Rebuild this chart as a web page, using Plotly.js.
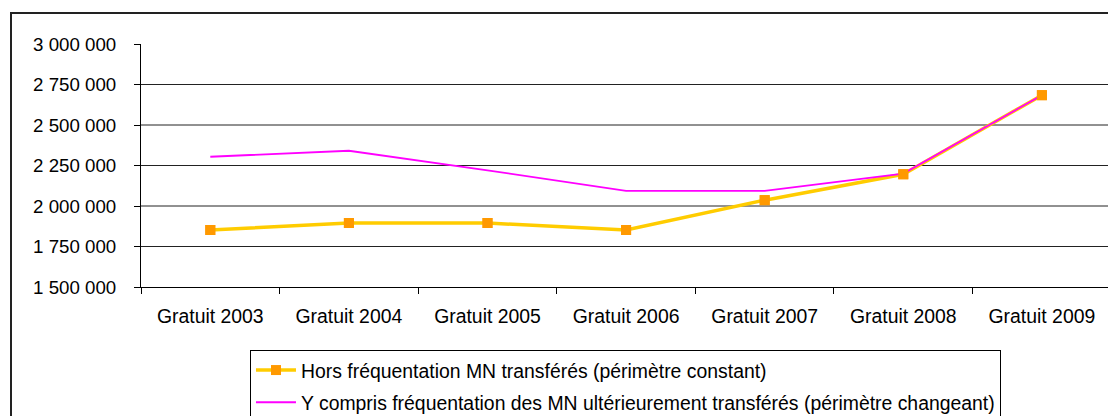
<!DOCTYPE html>
<html>
<head>
<meta charset="utf-8">
<script src="https://cdn.plot.ly/plotly-3.0.1.min.js"></script>
<style>
html,body{margin:0;padding:0;overflow:hidden;background:#fff;width:1108px;height:416px;}
#frame{position:absolute;left:10px;top:12px;width:1200px;height:600px;border-left:2px solid #222;border-top:2px solid #222;}
#chart{position:absolute;left:0;top:0;}
</style>
</head>
<body>
<div id="frame"></div>
<div id="chart"></div>
<script>
const categories = ["Gratuit 2003","Gratuit 2004","Gratuit 2005","Gratuit 2006","Gratuit 2007","Gratuit 2008","Gratuit 2009"];
const horsTransferes = [1852000, 1895000, 1895000, 1852000, 2036000, 2196000, 2684000];
const yComprisTransferes = [2304000, 2341000, 2220000, 2093000, 2093000, 2200000, 2684000];
const seriesNames = [
  "Hors fréquentation MN transférés (périmètre constant)",
  "Y compris fréquentation des MN ultérieurement transférés (périmètre changeant)"
];
const yTickVals = [1500000, 1750000, 2000000, 2250000, 2500000, 2750000, 3000000];
const yTickText = ["1 500 000","1 750 000","2 000 000","2 250 000","2 500 000","2 750 000","3 000 000"];
const gridVals = [1750000, 2000000, 2250000, 2500000, 2750000];

const FONT = "Liberation Sans, Arial, sans-serif";

const traces = [
  {x: categories, y: horsTransferes, name: seriesNames[0], type: "scatter", mode: "lines+markers",
   line: {color: "#FFCC00", width: 3.5}, marker: {symbol: "square", size: 10, color: "#FF9900"},
   legendgroup: "a"},
  {x: categories, y: yComprisTransferes, name: seriesNames[1], type: "scatter", mode: "lines",
   line: {color: "#FF00FF", width: 1.8}, legendgroup: "b"},
  {x: categories, y: horsTransferes, type: "scatter", mode: "markers", showlegend: false,
   marker: {symbol: "square", size: 10, color: "#FF9900"}, hoverinfo: "skip"}
];

const shapes = gridVals.map(v => ({type: "line", xref: "paper", yref: "y", x0: 0, x1: 1, y0: v, y1: v,
  line: {color: "#222", width: 1}, layer: "below"}));

const layout = {
  width: 1108, height: 440,
  margin: {l: 141, r: 0, t: 44, b: 153, pad: 0},
  paper_bgcolor: "rgba(0,0,0,0)", plot_bgcolor: "rgba(0,0,0,0)",
  font: {family: FONT, size: 19.4, color: "#000"},
  showlegend: true,
  xaxis: {type: "category", range: [-0.5, 6.477], showgrid: false, showline: true, linecolor: "#000", linewidth: 1,
    ticks: "outside", ticklen: 6, tickcolor: "#000", tickson: "boundaries", zeroline: false,
    ticklabelstandoff: 12,
    tickfont: {family: FONT, size: 19.4, color: "#000"}, fixedrange: true},
  yaxis: {range: [1500000, 3000000], tickvals: yTickVals, ticktext: yTickText, showgrid: false, zeroline: false,
    showline: true, linecolor: "#000", linewidth: 1, ticks: "outside", ticklen: 6, tickcolor: "#000",
    ticklabelstandoff: 14, tickfont: {family: FONT, size: 18.7, color: "#000"}, fixedrange: true},
  shapes: shapes,
  legend: {x: 0.1127, xanchor: "left", y: -0.259, yanchor: "top", bgcolor: "#fff", bordercolor: "#000", borderwidth: 1,
    font: {family: FONT, size: 19.4, color: "#000"}, itemwidth: 40, traceorder: "grouped", tracegroupgap: 4}
};

Plotly.newPlot("chart", traces, layout, {displayModeBar: false, staticPlot: true});
</script>
</body>
</html>
